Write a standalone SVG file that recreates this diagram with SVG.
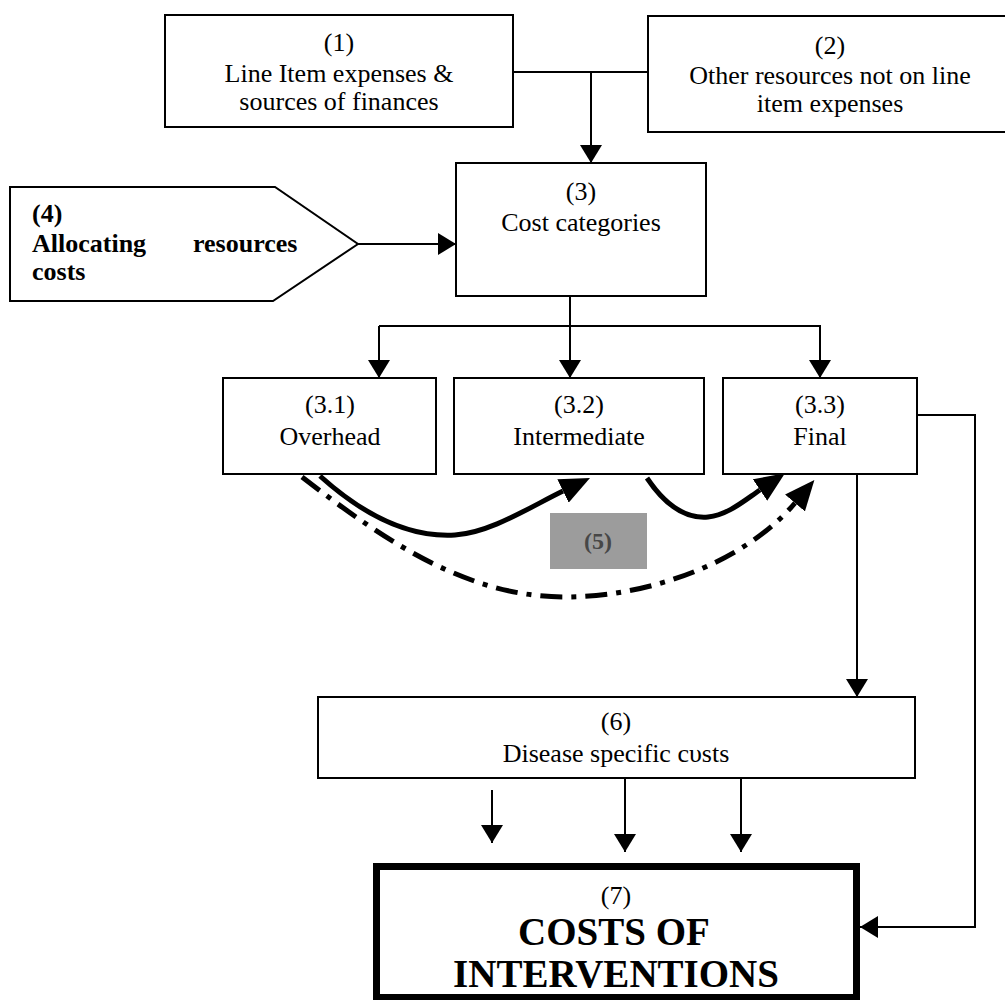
<svg xmlns="http://www.w3.org/2000/svg" width="1005" height="1000" viewBox="0 0 1005 1000">
<style>
.box{fill:#fff;stroke:#000;stroke-width:2}
.t{font-family:"Liberation Serif","Times New Roman",serif;font-size:26px;fill:#000;text-anchor:middle}
.tb{font-family:"Liberation Serif","Times New Roman",serif;font-size:26px;font-weight:bold;fill:#000}
.big{font-family:"Liberation Serif","Times New Roman",serif;font-size:39px;font-weight:bold;fill:#000;text-anchor:middle}
.ln{fill:none;stroke:#000;stroke-width:2}
.cv{fill:none;stroke:#000;stroke-width:5}
</style>
<defs>
<marker id="ah" markerUnits="userSpaceOnUse" markerWidth="18" markerHeight="22" viewBox="0 0 18 22" refX="18" refY="11" orient="auto">
<path d="M0,0 L18,11 L0,22 z" fill="#000"/>
</marker>
<marker id="ahb" markerUnits="userSpaceOnUse" markerWidth="30" markerHeight="26" viewBox="0 0 30 26" refX="0" refY="13" orient="auto">
<path d="M0,0 L30,13 L0,26 z" fill="#000"/>
</marker>
</defs>

<g id="connectors">
<polyline class="ln" points="513,72 648,72"/>
<line class="ln" x1="591" y1="72" x2="591" y2="163" marker-end="url(#ah)"/>
<line class="ln" x1="358" y1="244" x2="456" y2="244" marker-end="url(#ah)"/>
<line class="ln" x1="570" y1="296" x2="570" y2="378" marker-end="url(#ah)"/>
<polyline class="ln" points="379,326 820,326 820,378" marker-end="url(#ah)"/>
<line class="ln" x1="379" y1="326" x2="379" y2="378" marker-end="url(#ah)"/>
<polyline class="ln" points="917,415 975,415 975,927 860,927" marker-end="url(#ah)"/>
<line class="ln" x1="857" y1="474" x2="857" y2="697" marker-end="url(#ah)"/>
<line class="ln" x1="492" y1="790" x2="492" y2="843" marker-end="url(#ah)"/>
<line class="ln" x1="625" y1="778" x2="625" y2="852" marker-end="url(#ah)"/>
<line class="ln" x1="741" y1="778" x2="741" y2="852" marker-end="url(#ah)"/>
<path class="cv" d="M320,476 C360,512 405,538 455,535 C490,533 530,507 563,491" marker-end="url(#ahb)"/>
<path class="cv" d="M647,478 C665,505 685,519 708,517 C728,515 745,500 760,490" marker-end="url(#ahb)"/>
<path class="cv" stroke-dasharray="22 9 5 9" d="M302,477 C390,545 470,597 565,597 C650,597 745,562 795,503" marker-end="url(#ahb)"/>
</g>

<g id="node1">
<rect class="box" x="165" y="15" width="348" height="112"/>
<text class="t" x="339" y="51">(1)</text>
<text class="t" x="339" y="82">Line Item expenses &amp;</text>
<text class="t" x="339" y="110">sources of finances</text>
</g>

<g id="node2">
<rect class="box" x="648" y="16" width="370" height="116"/>
<text class="t" x="830" y="54">(2)</text>
<text class="t" x="830" y="84">Other resources not on line</text>
<text class="t" x="830" y="112">item expenses</text>
</g>

<g id="node3">
<rect class="box" x="456" y="163" width="250" height="133"/>
<text class="t" x="581" y="200">(3)</text>
<text class="t" x="581" y="231">Cost categories</text>
</g>

<g id="node4">
<polygon class="box" points="10,187 275,187 358,244 273,301 10,301"/>
<text class="tb" x="32" y="222">(4)</text>
<text class="tb" x="32" y="252">Allocating</text>
<text class="tb" x="193" y="252">resources</text>
<text class="tb" x="32" y="280">costs</text>
</g>

<g id="node3_1">
<rect class="box" x="223" y="378" width="213" height="96"/>
<text class="t" x="330" y="413">(3.1)</text>
<text class="t" x="330" y="445">Overhead</text>
</g>

<g id="node3_2">
<rect class="box" x="454" y="378" width="250" height="96"/>
<text class="t" x="579" y="413">(3.2)</text>
<text class="t" x="579" y="445">Intermediate</text>
</g>

<g id="node3_3">
<rect class="box" x="723" y="378" width="194" height="96"/>
<text class="t" x="820" y="413">(3.3)</text>
<text class="t" x="820" y="445">Final</text>
</g>

<g id="node5">
<rect x="550" y="513" width="97" height="56" fill="#9c9c9c"/>
<text x="598" y="549" font-family="Liberation Serif, Times New Roman, serif" font-size="24" font-weight="bold" fill="#474747" text-anchor="middle">(5)</text>
</g>

<g id="node6">
<rect class="box" x="318" y="697" width="597" height="81"/>
<text class="t" x="616" y="730">(6)</text>
<text class="t" x="616" y="762">Disease specific cυsts</text>
</g>

<g id="node7">
<rect x="376.5" y="866.5" width="480" height="131" fill="#fff" stroke="#000" stroke-width="7"/>
<text class="t" x="616" y="904">(7)</text>
<text class="big" x="614" y="945">COSTS OF</text>
<text class="big" x="616" y="987">INTERVENTIONS</text>
</g>
</svg>
